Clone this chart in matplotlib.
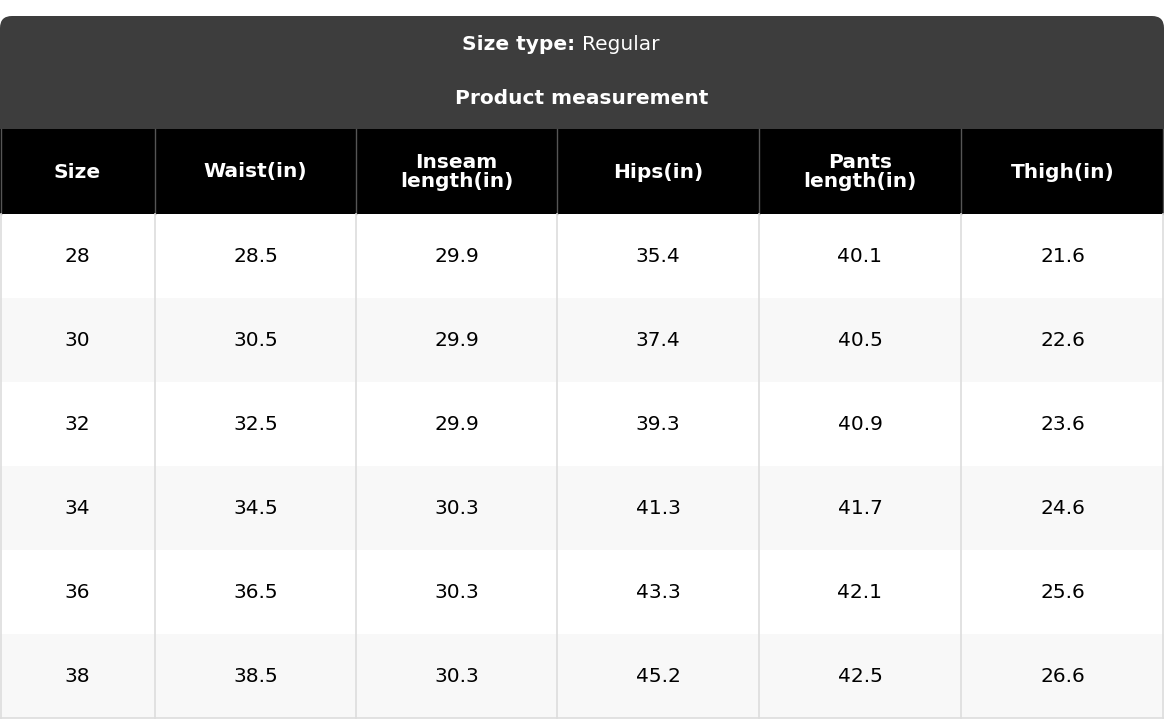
import matplotlib.pyplot as plt
from matplotlib.patches import FancyBboxPatch, Rectangle

size_type = "Regular"
columns = ["Size", "Waist(in)", "Inseam\nlength(in)", "Hips(in)", "Pants\nlength(in)", "Thigh(in)"]
sizes = ["28", "30", "32", "34", "36", "38"]
waist = ["28.5", "30.5", "32.5", "34.5", "36.5", "38.5"]
inseam = ["29.9", "29.9", "29.9", "30.3", "30.3", "30.3"]
hips = ["35.4", "37.4", "39.3", "41.3", "43.3", "45.2"]
pants = ["40.1", "40.5", "40.9", "41.7", "42.1", "42.5"]
thigh = ["21.6", "22.6", "23.6", "24.6", "25.6", "26.6"]

W, H = 1164, 720
col_x = [0, 155, 356, 557, 759, 961, 1164]

fig = plt.figure(figsize=(W / 100, H / 100), dpi=100)
ax = fig.add_axes([0, 0, 1, 1])
ax.set_xlim(0, W)
ax.set_ylim(H, 0)
ax.axis("off")

# title block with rounded top
ax.add_patch(FancyBboxPatch((0, 16), W, 140, boxstyle="round,pad=0,rounding_size=12",
                            fc="#3d3d3d", ec="none"))
ax.text(W / 2, 44, "Size type: ", ha="right", va="center", color="white",
        fontsize=14.5, fontweight="bold")
ax.text(W / 2, 44, size_type, ha="left", va="center", color="white", fontsize=14.5)
ax.text(W / 2, 99, "Product measurement", ha="center", va="center", color="white",
        fontsize=14.5, fontweight="bold")

# column header
ax.add_patch(Rectangle((0, 129), W, 85, fc="black", ec="none"))
for i, c in enumerate(columns):
    cx = (col_x[i] + col_x[i + 1]) / 2
    ax.text(cx, 172, c, ha="center", va="center", color="white", fontsize=14.5,
            fontweight="bold", linespacing=1.0)

rows = list(zip(sizes, waist, inseam, hips, pants, thigh))
top, rh = 214, 84
for r, row in enumerate(rows):
    y0 = top + r * rh
    ax.add_patch(Rectangle((0, y0), W, rh, fc="white" if r % 2 == 0 else "#f8f8f8", ec="none"))
    for i, v in enumerate(row):
        cx = (col_x[i] + col_x[i + 1]) / 2
        ax.text(cx, y0 + rh / 2, v, ha="center", va="center", color="black", fontsize=14.5)

bottom = top + len(rows) * rh
for i, x in enumerate(col_x):
    xx = min(max(x, 1), W - 1)
    ax.plot([xx, xx], [129, 214], color="#555555", lw=1)
    ax.plot([xx, xx], [214, bottom], color="#dddddd", lw=1.2)
ax.plot([0, W], [bottom, bottom], color="#dddddd", lw=1.2)

fig.savefig("out.png", dpi=100)
